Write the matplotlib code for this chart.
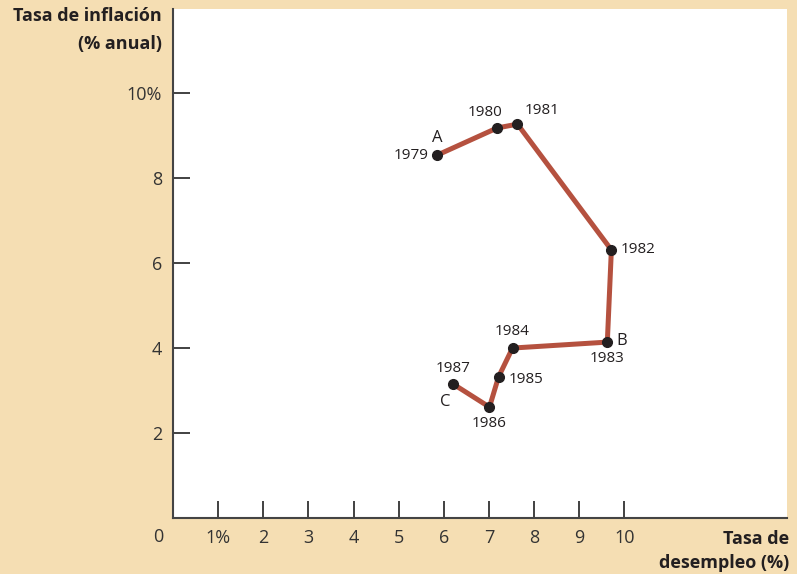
import matplotlib
matplotlib.use("Agg")
import matplotlib.pyplot as plt

years = ["1979", "1980", "1981", "1982", "1983", "1984", "1985", "1986", "1987"]
unemployment = [5.85, 7.18, 7.63, 9.71, 9.62, 7.52, 7.21, 7.01, 6.21]
inflation = [8.54, 9.18, 9.27, 6.31, 4.14, 4.00, 3.32, 2.61, 3.15]
x_ticks = [1, 2, 3, 4, 5, 6, 7, 8, 9, 10]
x_ticklabels = ["1%", "2", "3", "4", "5", "6", "7", "8", "9", "10"]
y_ticks = [2, 4, 6, 8, 10]
y_ticklabels = ["2", "4", "6", "8", "10%"]

# label offsets (points) for year labels and point markers
year_offsets = [(-6, 0, "right", "center"), (-9, 11, "center", "center"), (5, 10, "left", "center"),
                (7, 0, "left", "center"), (0, -12, "center", "center"), (0, 12, "center", "center"),
                (7, -2, "left", "center"), (0, -12, "center", "center"), (0, 11, "center", "center")]
letters = {"A": (0, 0, 12), "B": (4, 10, 1), "C": (8, -6, -13)}

plt.rcParams['font.family'] = ['Open Sans', 'DejaVu Sans']
txt = "#231f20"
bg = "#f5deb3"

fig = plt.figure(figsize=(7.97, 5.74), dpi=100, facecolor=bg)
ax = fig.add_axes([173/797, 56/574, 614/797, 509/574])
ax.set_facecolor("white")
ax.set_xlim(0, 13.6)
ax.set_ylim(0, 11.98)

ax.plot(unemployment, inflation, color="#b5513f", lw=3.6, solid_capstyle="round",
        solid_joinstyle="round", zorder=2)
ax.plot(unemployment, inflation, "o", color="#231f20", ms=7, zorder=3)

for i, yr in enumerate(years):
    dx, dy, ha, va = year_offsets[i]
    ax.annotate(yr, (unemployment[i], inflation[i]), xytext=(dx, dy), textcoords="offset points",
                ha=ha, va=va, fontsize=11, color=txt)
for lab, (idx, dx, dy) in letters.items():
    ax.annotate(lab, (unemployment[idx], inflation[idx]), xytext=(dx, dy), textcoords="offset points",
                ha="center", va="center", fontsize=12, color=txt)

for s in ["top", "right"]:
    ax.spines[s].set_visible(False)
for s in ["left", "bottom"]:
    ax.spines[s].set_color("#444444")
    ax.spines[s].set_linewidth(1.5)

ax.set_xticks(x_ticks)
ax.set_xticklabels(x_ticklabels)
ax.set_yticks(y_ticks)
ax.set_yticklabels(y_ticklabels)
ax.tick_params(direction="in", length=12, width=1.3, color="#333333", labelsize=13,
               labelcolor="#333333")
ax.tick_params(axis="x", pad=8)
ax.tick_params(axis="y", pad=8)

fig.text(158/797, 1 - 537/574, "0", ha="center", va="center", fontsize=13, color="#333333")
fig.text(162/797, 1 - 7/574, "Tasa de inflación\n(% anual)", ha="right", va="top",
         fontsize=13, fontweight="bold", color=txt, linespacing=1.7)
fig.text(789/797, 1 - 572/574, "Tasa de\ndesempleo (%)", ha="right", va="bottom",
         fontsize=13, fontweight="bold", color=txt, linespacing=1.45)

fig.savefig("out.png", dpi=100, facecolor=bg)
